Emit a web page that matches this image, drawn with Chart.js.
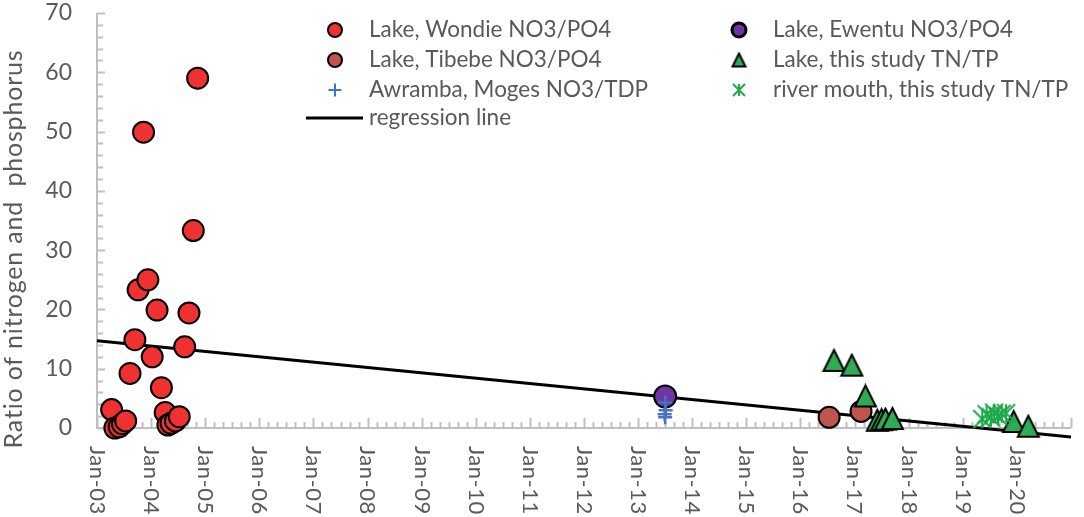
<!DOCTYPE html>
<html>
<head>
<meta charset="utf-8">
<script src="https://cdn.jsdelivr.net/npm/chart.js@4.4.1/dist/chart.umd.min.js"></script>
<style>
  html, body { margin: 0; padding: 0; background: #fff; }
</style>
</head>
<body>
<canvas id="myChart1" width="1084" height="517"></canvas>
<script>
// ---- data (x = decimal year, y = ratio) ----
const wondieX = [2003.27, 2003.33, 2003.41, 2003.47, 2003.53, 2003.61, 2003.70, 2003.76, 2003.86, 2003.94, 2004.02,
                 2004.11, 2004.19, 2004.26, 2004.31, 2004.37, 2004.45, 2004.52, 2004.62, 2004.70, 2004.78, 2004.86];
const wondieY = [3.1, 0.0, 0.2, 0.7, 1.2, 9.2, 14.9, 23.3, 49.9, 25.0, 12.0,
                 19.9, 6.8, 2.6, 0.5, 0.8, 1.2, 1.9, 13.7, 19.4, 33.3, 59.0];
const ewentuX = [2013.50];
const ewentuY = [5.3];
const tibebeX = [2016.53, 2017.12];
const tibebeY = [1.8, 2.8];
const lakeX = [2016.62, 2016.95, 2017.20, 2017.42, 2017.50, 2017.57, 2017.70, 2019.94, 2020.21];
const lakeY = [11.4, 10.6, 5.4, 1.3, 1.4, 1.5, 1.6, 1.1, 0.3];
const awrambaX = [2013.50, 2013.51, 2013.49, 2013.50];
const awrambaY = [4.3, 3.0, 2.3, 1.8];
const riverX = [2019.36, 2019.44, 2019.52, 2019.58, 2019.65, 2019.72, 2019.80];
const riverY = [1.5, 2.3, 1.8, 2.6, 2.0, 2.4, 2.5];
const regX = [2003, 2021];
const regY = [14.7, -1.5];

const tickYears = [2003, 2004, 2005, 2006, 2007, 2008, 2009, 2010, 2011, 2012, 2013, 2014, 2015, 2016, 2017, 2018, 2019, 2020];
const tickLabels = ["Jan-03", "Jan-04", "Jan-05", "Jan-06", "Jan-07", "Jan-08", "Jan-09", "Jan-10", "Jan-11",
                    "Jan-12", "Jan-13", "Jan-14", "Jan-15", "Jan-16", "Jan-17", "Jan-18", "Jan-19", "Jan-20"];
const yTitle = "Ratio of nitrogen and  phosphorus";

const pts = (xs, ys) => xs.map((x, i) => ({ x: x, y: ys[i] }));

const textColor = "#595959";
const axisColor = "#BFBFBF";
const fontFamily = "Lato";

// excel-like marker images
function makeTriangle(size, fill) {
    const c = document.createElement("canvas");
    c.width = size + 4;
    c.height = size + 4;
    const g = c.getContext("2d");
    g.fillStyle = fill;
    g.strokeStyle = "#000";
    g.lineWidth = 2;
    g.beginPath();
    g.moveTo(c.width / 2, 2);
    g.lineTo(c.width - 2, c.height - 2);
    g.lineTo(2, c.height - 2);
    g.closePath();
    g.fill();
    g.stroke();
    return c;
}

function makeAsterisk(size, color) {
    const c = document.createElement("canvas");
    c.width = size + 2;
    c.height = size + 2;
    const g = c.getContext("2d");
    const m = c.width / 2, h = size / 2;
    g.strokeStyle = color;
    g.lineWidth = 2;
    g.beginPath();
    g.moveTo(m - h, m - h); g.lineTo(m + h, m + h);
    g.moveTo(m + h, m - h); g.lineTo(m - h, m + h);
    g.moveTo(m, m - h); g.lineTo(m, m + h);
    g.stroke();
    return c;
}

const triBig = makeTriangle(21, "#2FAA55");
const triSmall = makeTriangle(13, "#2FAA55");
const starBig = makeAsterisk(18, "#1FA84C");
const starSmall = makeAsterisk(12, "#1FA84C");

const legendItems = [
    { ds: 0, x: 335, y: 30, tx: 369 },
    { ds: 2, x: 335, y: 60, tx: 369 },
    { ds: 4, x: 335, y: 90, tx: 369 },
    { ds: 6, x: 335, y: 118, tx: 369 },
    { ds: 1, x: 739, y: 30, tx: 773 },
    { ds: 3, x: 739, y: 60, tx: 773 },
    { ds: 5, x: 739, y: 90, tx: 773 },
];

const excelLook = {
    id: "excelLook",
    beforeDatasetsDraw(chart) {
        const { ctx, scales: { x, y } } = chart;
        const x0 = x.getPixelForValue(x.min);
        const y0 = y.getPixelForValue(0);
        ctx.save();
        ctx.strokeStyle = axisColor;
        ctx.lineWidth = 2;
        ctx.beginPath();
        ctx.moveTo(x0, y.getPixelForValue(y.max));
        ctx.lineTo(x0, y0);
        ctx.lineTo(x.getPixelForValue(x.max), y0);
        for (let v = 0; v <= y.max; v += 2) {
            const py = Math.round(y.getPixelForValue(v)) + 0.5;
            ctx.moveTo(x0, py);
            ctx.lineTo(x0 + (v % 10 === 0 ? 8 : 6), py);
        }
        for (let m = 0; m <= (x.max - x.min) * 6; m++) {
            const px = Math.round(x.getPixelForValue(x.min + m / 6)) + 0.5;
            ctx.moveTo(px, y0);
            ctx.lineTo(px, y0 - (m % 6 === 0 ? 10 : 6));
        }
        ctx.stroke();
        ctx.restore();
    },
    afterDraw(chart) {
        const { ctx, scales: { x, y } } = chart;
        ctx.save();
        ctx.fillStyle = textColor;

        // rotated date labels
        ctx.font = "22px " + fontFamily;
        ctx.letterSpacing = "0.5px";
        ctx.textAlign = "left";
        ctx.textBaseline = "middle";
        tickYears.forEach((yr, i) => {
            ctx.save();
            ctx.translate(x.getPixelForValue(yr), 446);
            ctx.rotate(Math.PI / 2);
            ctx.fillText(tickLabels[i], 0, 0);
            ctx.restore();
        });

        // y title
        ctx.save();
        ctx.font = "25px " + fontFamily;
        ctx.letterSpacing = "0.8px";
        ctx.textAlign = "center";
        ctx.translate(14, 249);
        ctx.rotate(-Math.PI / 2);
        ctx.fillText(yTitle, 0, 0);
        ctx.restore();

        // legend
        ctx.font = "22.5px " + fontFamily;
        ctx.letterSpacing = "0px";
        ctx.textAlign = "left";
        legendItems.forEach(it => {
            const ds = chart.data.datasets[it.ds];
            if (ds.showLine) {
                ctx.strokeStyle = "#000";
                ctx.lineWidth = 3;
                ctx.beginPath();
                ctx.moveTo(306, it.y);
                ctx.lineTo(363, it.y);
                ctx.stroke();
            } else {
                ctx.fillStyle = ds.backgroundColor;
                ctx.strokeStyle = ds.borderColor;
                Chart.helpers.drawPoint(ctx, {
                    pointStyle: ds.legendStyle || ds.pointStyle,
                    radius: ds.legendRadius,
                    rotation: 0,
                    borderWidth: ds.borderWidth
                }, it.x, it.y);
            }
            ctx.fillStyle = textColor;
            ctx.fillText(ds.label, it.tx, it.y);
        });
        ctx.restore();
    }
};

const ctx = document.getElementById("myChart1").getContext("2d");

const data = {
    datasets: [
        {
            label: "Lake, Wondie NO3/PO4",
            data: pts(wondieX, wondieY),
            pointStyle: "circle",
            pointRadius: 10.5,
            legendRadius: 7,
            backgroundColor: "#EF3131",
            borderColor: "#000",
            borderWidth: 2,
            order: 6,
        },
        {
            label: "Lake, Ewentu NO3/PO4",
            data: pts(ewentuX, ewentuY),
            pointStyle: "circle",
            pointRadius: 11,
            legendRadius: 7,
            backgroundColor: "#7135A3",
            borderColor: "#000",
            borderWidth: 2,
            order: 5,
        },
        {
            label: "Lake, Tibebe NO3/PO4",
            data: pts(tibebeX, tibebeY),
            pointStyle: "circle",
            pointRadius: 10.5,
            legendRadius: 7,
            backgroundColor: "#C0554F",
            borderColor: "#000",
            borderWidth: 2,
            order: 4,
        },
        {
            label: "Lake, this study TN/TP",
            data: pts(lakeX, lakeY),
            pointStyle: triBig,
            legendStyle: triSmall,
            pointRadius: 11,
            legendRadius: 7,
            backgroundColor: "#2FAA55",
            borderColor: "#000",
            borderWidth: 2,
            order: 3,
        },
        {
            label: "Awramba, Moges NO3/TDP",
            data: pts(awrambaX, awrambaY),
            pointStyle: "cross",
            pointRadius: 7,
            legendRadius: 6.5,
            backgroundColor: "#4472C4",
            borderColor: "#4472C4",
            borderWidth: 2.5,
            order: 2,
        },
        {
            label: "river mouth, this study TN/TP",
            data: pts(riverX, riverY),
            pointStyle: starBig,
            legendStyle: starSmall,
            pointRadius: 9,
            legendRadius: 6,
            backgroundColor: "#1FA84C",
            borderColor: "#1FA84C",
            borderWidth: 2,
            order: 1,
        },
        {
            label: "regression line",
            data: pts(regX, regY),
            showLine: true,
            pointRadius: 0,
            borderColor: "#000",
            backgroundColor: "#000",
            borderWidth: 3,
            order: 7,
        },
    ],
};

data.datasets.forEach(ds => { ds.clip = false; ds.pointHoverRadius = ds.pointRadius; });

const myChart = new Chart(ctx, {
    type: "scatter",
    data: data,
    plugins: [excelLook],
    options: {
        responsive: false,
        animation: false,
        layout: { padding: { top: 12, right: 8, left: 0, bottom: 0 } },
        plugins: {
            legend: { display: false },
            tooltip: { enabled: false },
        },
        scales: {
            x: {
                type: "linear",
                min: 2003,
                max: 2021,
                grid: { display: false },
                border: { display: false },
                ticks: { display: false },
                afterFit: (scale) => {
                    scale.height = 89;
                    scale.paddingLeft = 0;
                    scale.paddingRight = 0;
                },
            },
            y: {
                min: 0,
                max: 70,
                grid: { display: false },
                border: { display: false },
                ticks: {
                    stepSize: 10,
                    padding: 17,
                    color: textColor,
                    font: { family: fontFamily, size: 23 },
                },
                afterFit: (scale) => {
                    scale.width = 97;
                    scale.paddingTop = 0;
                    scale.paddingBottom = 0;
                },
            },
        },
    },
});
</script>
</body>
</html>
